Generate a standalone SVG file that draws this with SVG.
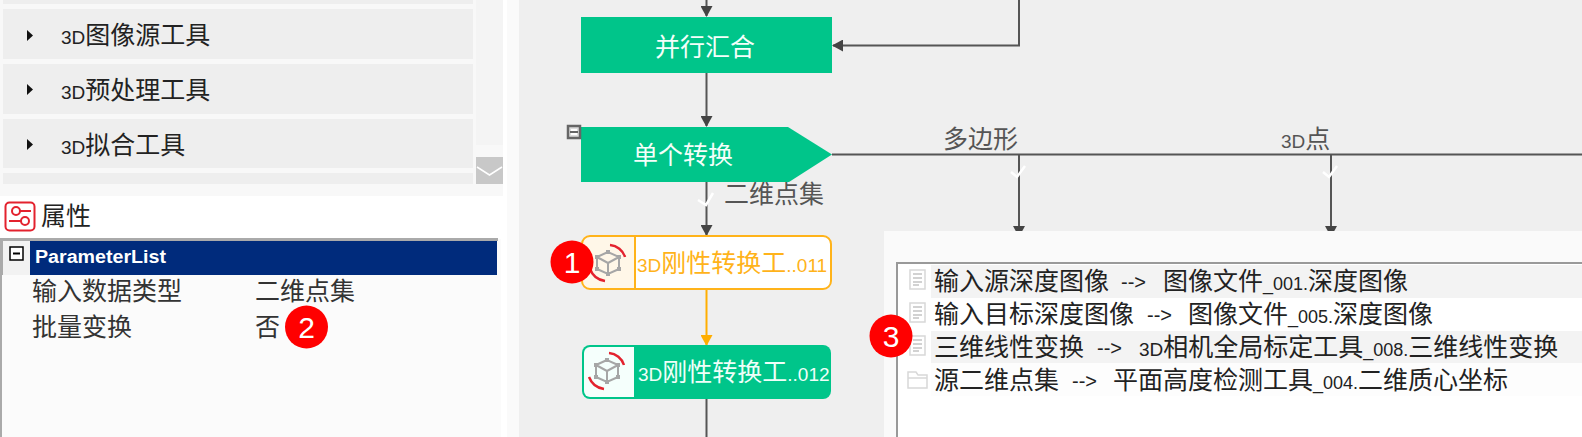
<svg xmlns="http://www.w3.org/2000/svg" width="1582" height="437" viewBox="0 0 1582 437">
<style>
text{font-family:"Noto Sans CJK SC","Liberation Sans",sans-serif;}
.l{font-family:"Liberation Sans",sans-serif;}
.row{fill:#eeeeee}
.tool{font-size:25px;fill:#222}
.tri{fill:#111}
.prop{font-size:25px;fill:#333}
.lst{font-size:25px;fill:#222}
.t3d{font-family:"Liberation Sans",sans-serif;font-size:19px}
.sm{font-family:"Liberation Sans",sans-serif;font-size:18px}
.sn{font-family:"Liberation Sans",sans-serif;font-size:19px}
.arr{font-family:"Liberation Sans",sans-serif;font-size:20px;fill:#222}
.wt{font-size:25px;fill:#f4fffa}
.lbl{font-size:25px;fill:#555}
.badge{fill:#ff0000}
.bt{font-family:"Liberation Sans",sans-serif;font-size:30px;fill:#fff;text-anchor:middle}
.cn{fill:none;stroke:#555;stroke-width:2}
.ck{fill:none;stroke:#fff;stroke-width:2.500}
.ic{fill:none;stroke:#d8d8d8;stroke-width:1.500}
.rot{fill:none;stroke:#e3222e;stroke-width:2.500}
.cube{fill:none;stroke:#a6a6a6;stroke-width:2}
.hl{fill:#f3f3f3}
</style>
<defs>
<marker id="ah" markerUnits="userSpaceOnUse" markerWidth="13" markerHeight="12" refX="10" refY="6" orient="auto"><path d="M0 0L11 6L0 12Z" fill="#444"/></marker>
<marker id="ao" markerUnits="userSpaceOnUse" markerWidth="13" markerHeight="12" refX="10" refY="6" orient="auto"><path d="M0 0L11 6L0 12Z" fill="#ffae00"/></marker>
<g id="cube3d">
<path class="rot" d="M2-17A17 17 0 0 1 17-5M-18 7A19 19 0 0 0 -3 19"/>
<path class="cube" d="M0-10L-11-5V7L0 12L11 7V-5ZM-11-5L0 1L11-5M0 1V12"/>
<path d="M-13-7h4v4h-4zM9-7h4v4h-4zM-2-12h4v4h-4zM-13 5h4v4h-4zM9 5h4v4h-4zM-2 10h4v4h-4z" fill="#a6a6a6"/>
</g>
<g id="doc"><path class="ic" d="M1 0H16V19H1Z"/><path d="M4 4H13M4 8H13M4 12H13M4 15H10" stroke="#c4c4c4" stroke-width="1.500"/></g>
</defs>
<rect width="1582" height="437" fill="#ffffff"/>
<g id="tool-panel">
<rect width="503" height="196" fill="#f8f8f8"/>
<rect class="row" x="3" y="0" width="470" height="4"/>
<g id="tool-image-source"><rect class="row" x="3" y="9" width="470" height="50"/><path class="tri" d="M27 30L33 35.500L27 41Z"/><text class="tool" x="61" y="44"><tspan class="t3d">3D</tspan>图像源工具</text></g>
<g id="tool-preprocess"><rect class="row" x="3" y="64" width="470" height="50"/><path class="tri" d="M27 84L33 89.500L27 95Z"/><text class="tool" x="61" y="99"><tspan class="t3d">3D</tspan>预处理工具</text></g>
<g id="tool-fit"><rect class="row" x="3" y="119" width="470" height="49"/><path class="tri" d="M27 139L33 144.500L27 150Z"/><text class="tool" x="61" y="154"><tspan class="t3d">3D</tspan>拟合工具</text></g>
<rect class="row" x="3" y="173" width="470" height="11"/>
<rect x="476" y="0" width="27" height="145" fill="#f4f4f4"/>
<rect x="476" y="157" width="27" height="27" fill="#c8c8c8"/>
<path d="M477 167L489.500 175L502 167" fill="none" stroke="#fff" stroke-width="1.500"/>
</g>
<g id="property-panel">
<rect x="5.500" y="202.500" width="29" height="28" rx="4" fill="#fff" stroke="#e3222e" stroke-width="2"/>
<circle cx="16" cy="211" r="4" fill="none" stroke="#e3222e" stroke-width="2"/>
<circle cx="25" cy="221" r="4" fill="none" stroke="#e3222e" stroke-width="2"/>
<path d="M20 211H31M9 221H21" stroke="#e3222e" stroke-width="2"/>
<text x="41" y="225" font-size="25" fill="#222">属性</text>
<rect x="0" y="239" width="501" height="198" fill="#fbfbfb"/>
<rect x="0" y="238" width="498" height="3" fill="#aaa"/>
<rect x="0" y="241" width="2" height="196" fill="#aaa"/>
<rect x="2" y="241" width="28" height="34" fill="#f2f2f2"/>
<rect x="2" y="241" width="1" height="34" fill="#aaa"/>
<rect x="30" y="241" width="467" height="34" fill="#002b7c"/>
<rect x="10" y="247" width="13" height="13" fill="#fff" stroke="#000" stroke-width="1.500"/>
<path d="M13 253.500H20" stroke="#000" stroke-width="2"/>
<text class="l" x="35" y="263" font-size="18" font-weight="bold" fill="#fff" textLength="131" lengthAdjust="spacingAndGlyphs">ParameterList</text>
<text class="prop" x="32" y="300">输入数据类型</text>
<text class="prop" x="255" y="300">二维点集</text>
<text class="prop" x="32" y="336">批量变换</text>
<text class="prop" x="255" y="336">否</text>
</g>
<rect x="507" y="0" width="12" height="437" fill="#fafafa"/>
<rect id="canvas" x="519" y="0" width="1063" height="437" fill="#efefef"/>
<g id="connectors">
<path class="cn" d="M706.500 0V16" marker-end="url(#ah)"/>
<path class="cn" d="M1019 0V45.500H833" marker-end="url(#ah)"/>
<path class="cn" d="M706.500 73V126" marker-end="url(#ah)"/>
<path class="cn" d="M832 154.500H1582"/>
<path class="cn" d="M706.500 182V235" marker-end="url(#ah)"/>
<path class="cn" d="M1019 154.500V236" marker-end="url(#ah)"/>
<path class="cn" d="M1331 154.500V236" marker-end="url(#ah)"/>
<path d="M706.500 289V345" fill="none" stroke="#ffae00" stroke-width="2" marker-end="url(#ao)"/>
<path class="cn" d="M706.500 399V437"/>
<path class="ck" d="M698 200L706 205L713 193"/>
<path class="ck" d="M1011 172L1017 177L1025 166"/>
<path class="ck" d="M1323 172L1329 177L1337 166"/>
<text class="lbl" x="724" y="203">二维点集</text>
<text class="lbl" x="943" y="148">多边形</text>
<text class="lbl" x="1281" y="148"><tspan class="t3d">3D</tspan>点</text>
</g>
<g id="node-merge"><rect x="581" y="17" width="251" height="56" fill="#00c58a"/><text class="wt" x="655" y="55.500">并行汇合</text></g>
<g id="node-switch"><path d="M581 127H788L832 154.500L789 182H581Z" fill="#00c58a"/>
<rect x="568" y="126" width="12" height="12" fill="#ddd" stroke="#666" stroke-width="2.500"/><path d="M571 130H577M571 134H577" stroke="#fff" stroke-width="2"/><path d="M570 132H578" stroke="#666" stroke-width="2"/>
<text class="wt" x="633" y="164">单个转换</text></g>
<g id="node-tool-011"><rect x="582" y="236" width="249" height="53" rx="8" fill="#fff"/><path d="M635 236H590a8 8 0 0 0-8 8V281a8 8 0 0 0 8 8H635Z" fill="#fff7e8"/><rect x="582" y="236" width="249" height="53" rx="8" fill="none" stroke="#ffb31a" stroke-width="2"/><path d="M635 236V289" stroke="#ffb31a" stroke-width="2"/><use href="#cube3d" transform="translate(608 262)"/><text x="637" y="272" font-size="25" fill="#ffb31a"><tspan class="t3d">3D</tspan>刚性转换工<tspan class="sn">..011</tspan></text></g>
<g id="node-tool-012"><rect x="582" y="345" width="249" height="54" rx="8" fill="#00c58a"/><path d="M634 347H590a6 6 0 0 0-6 6V391a6 6 0 0 0 6 6H634Z" fill="#f5fffc"/><use href="#cube3d" transform="translate(607 370)"/><text x="638" y="381" font-size="25" fill="#effff9"><tspan class="t3d">3D</tspan>刚性转换工<tspan class="sn">..012</tspan></text></g>
<g id="input-panel">
<rect x="884" y="231" width="698" height="206" fill="#fafafa"/>
<path d="M1582 263H897V437H1582Z" fill="#fff"/>
<path d="M1582 263H897V437" fill="none" stroke="#999" stroke-width="2"/>
<rect class="hl" x="931" y="265" width="651" height="33"/>
<rect class="hl" x="931" y="331" width="651" height="32"/>
<rect x="931" y="363" width="651" height="33" fill="#fdfdfd"/>
<use href="#doc" transform="translate(909 270)"/>
<use href="#doc" transform="translate(909 303)"/>
<use href="#doc" transform="translate(909 336)"/>
<path class="ic" d="M908 372H916L918 375H927V388H908ZM908 378H927"/>
<text class="lst" x="934" y="290">输入源深度图像</text><text class="arr" x="1121" y="289">--&gt;</text><text class="lst" x="1163" y="290">图像文件<tspan class="sm">_001.</tspan>深度图像</text>
<text class="lst" x="934" y="323">输入目标深度图像</text><text class="arr" x="1147" y="322">--&gt;</text><text class="lst" x="1188" y="323">图像文件<tspan class="sm">_005.</tspan>深度图像</text>
<text class="lst" x="934" y="356">三维线性变换</text><text class="arr" x="1097" y="355">--&gt;</text><text class="lst" x="1139" y="356"><tspan class="t3d">3D</tspan>相机全局标定工具<tspan class="sm">_008.</tspan>三维线性变换</text>
<text class="lst" x="934" y="388.500">源二维点集</text><text class="arr" x="1072" y="387.500">--&gt;</text><text class="lst" x="1113" y="388.500">平面高度检测工具<tspan class="sm">_004.</tspan>二维质心坐标</text>
</g>
<g id="badge-1"><circle class="badge" cx="572" cy="262" r="21.500"/><text class="bt" x="572" y="273">1</text></g>
<g id="badge-2"><circle class="badge" cx="306.500" cy="327" r="21.500"/><text class="bt" x="306.500" y="338">2</text></g>
<g id="badge-3"><circle class="badge" cx="891" cy="336" r="21.500"/><text class="bt" x="891" y="347">3</text></g>
</svg>
